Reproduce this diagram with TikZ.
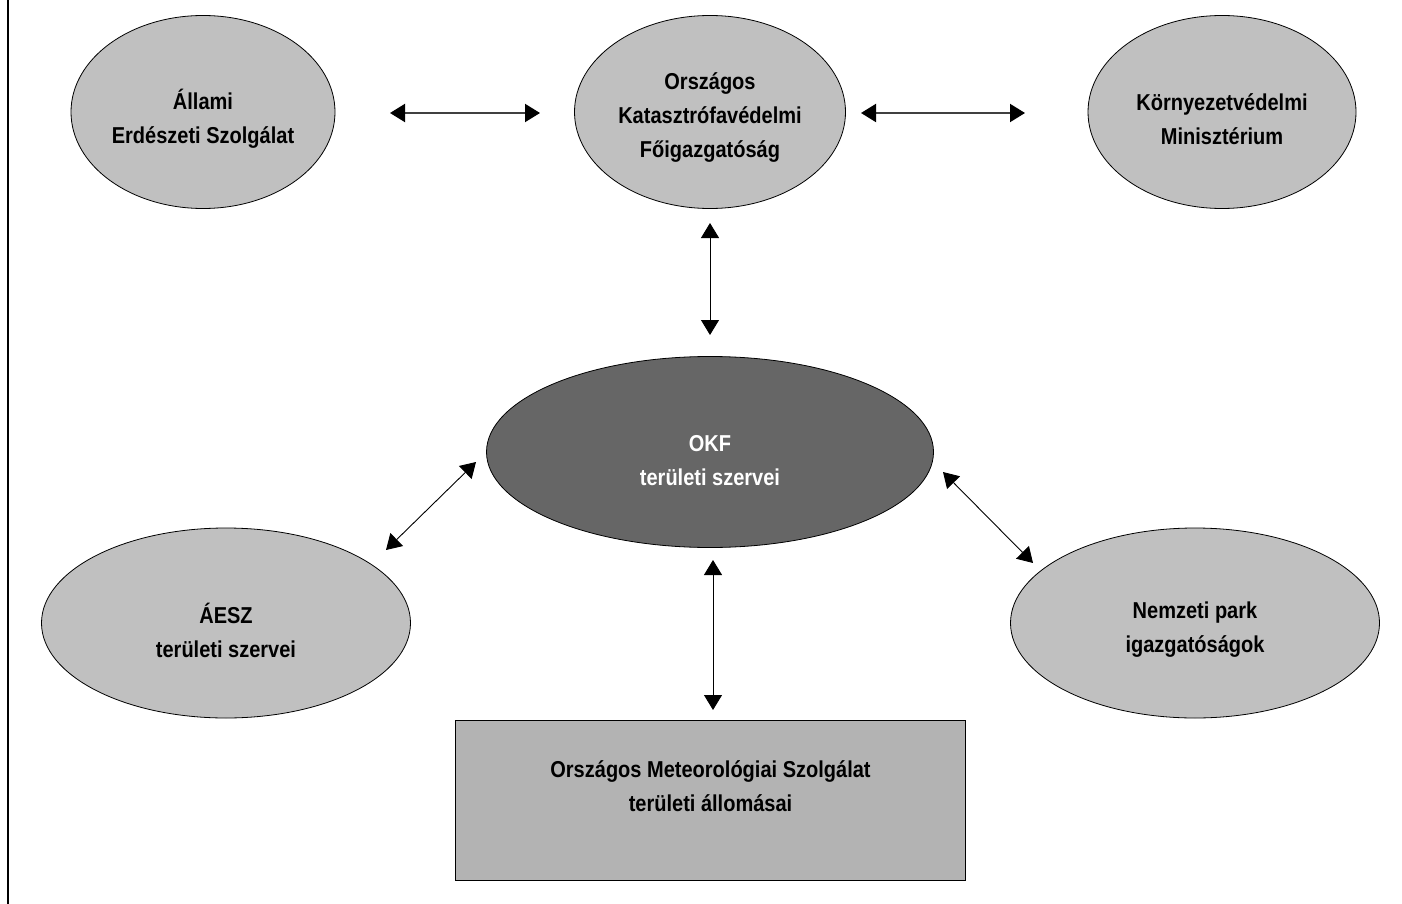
\documentclass[tikz,border=0pt]{standalone}
\usepackage{fontspec}
\setmainfont{Liberation Sans}[FakeStretch=0.87]
\usetikzlibrary{arrows.meta,shapes.geometric}
\definecolor{lightfill}{HTML}{C0C0C0}
\definecolor{darkfill}{HTML}{666666}
\definecolor{boxfill}{HTML}{B3B3B3}
\definecolor{hline}{HTML}{404040}
\tikzset{
  lbl/.style={font=\bfseries\fontsize{23}{34}\selectfont, align=center},
  oval/.style={ellipse, draw=black, line width=0.8pt, fill=lightfill, inner sep=0pt},
  darkoval/.style={oval, fill=darkfill},
  metbox/.style={rectangle, draw=black, line width=0.8pt, fill=boxfill, inner sep=0pt},
  intext/.style={lbl, yshift=-7pt},
  biarrow/.style={{Triangle[length=15pt,width=18pt,color=black]}-{Triangle[length=15pt,width=18pt,color=black]}, line width=0.9pt, black},
  harrow/.style={biarrow, line width=2pt, draw=hline},
}
\begin{document}
\begin{tikzpicture}[x=1pt,y=-1pt]
\useasboundingbox (0,0) rectangle (1402,904);
\draw[line width=2.6pt] (8,0) -- (8,904);

\node[oval, minimum width=264pt, minimum height=193pt,
  label={[intext, name=aes-t]center:{Állami\\Erdészeti Szolgálat}}] (aes) at (203,112) {};
\node[oval, minimum width=271pt, minimum height=193pt,
  label={[intext, yshift=1pt, name=okf-t]center:{Országos\\Katasztrófavédelmi\\Főigazgatóság}}] (okf) at (710,112) {};
\node[oval, minimum width=268pt, minimum height=193pt,
  label={[intext, name=km-t]center:{Környezetvédelmi\\Minisztérium}}] (km) at (1222,112) {};
\node[darkoval, minimum width=447pt, minimum height=191pt,
  label={[intext, yshift=-2pt, text=white, name=okft-t]center:{OKF\\területi szervei}}] (okft) at (710,452) {};
\node[oval, minimum width=369pt, minimum height=190pt,
  label={[intext, name=aeszt-t]center:{ÁESZ\\területi szervei}}] (aeszt) at (226,623) {};
\node[oval, minimum width=369pt, minimum height=190pt,
  label={[intext, name=np-t]center:{Nemzeti park\\igazgatóságok}}] (np) at (1195,623) {};
\node[metbox, minimum width=510pt, minimum height=160pt,
  label={[lbl, yshift=14pt, name=oms-t]center:{Országos Meteorológiai Szolgálat\\területi állomásai}}] (oms) at (710.5,800) {};

\coordinate (h1a) at (390,113);
\coordinate (h1b) at (540,113);
\coordinate (h2a) at (861,113);
\coordinate (h2b) at (1025,113);
\coordinate (v1a) at (710,223);
\coordinate (v1b) at (710,335);
\coordinate (d1a) at (386,550);
\coordinate (d1b) at (476,462);
\coordinate (d2a) at (943,472);
\coordinate (d2b) at (1033,563);
\coordinate (v2a) at (713,560);
\coordinate (v2b) at (713,710);

\draw[harrow] (h1a) -- (h1b);
\draw[harrow] (h2a) -- (h2b);
\draw[biarrow] (v1a) -- (v1b);
\draw[biarrow] (d1a) -- (d1b);
\draw[biarrow] (d2a) -- (d2b);
\draw[biarrow] (v2a) -- (v2b);
\end{tikzpicture}
\end{document}
